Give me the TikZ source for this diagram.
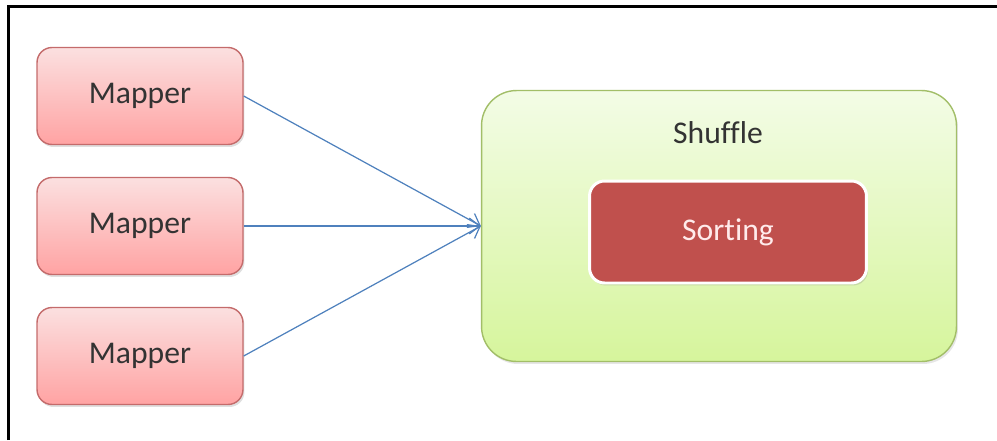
\documentclass[tikz,border=0pt]{standalone}
\usepackage{fontspec}
\setmainfont{Carlito}[Ligatures=CommonOff]
\usetikzlibrary{calc}
\usetikzlibrary{positioning}
\usetikzlibrary{shadows}
\usetikzlibrary{arrows.meta}

\definecolor{mapedge}{HTML}{C46B6B}
\definecolor{maptop}{HTML}{FBE0E0}
\definecolor{mapbottom}{HTML}{FFA3A3}
\definecolor{shufedge}{HTML}{A2BE68}
\definecolor{shuftop}{HTML}{F3FCE6}
\definecolor{shufbottom}{HTML}{D6F59C}
\definecolor{sortfill}{HTML}{C0504D}
\definecolor{flowblue}{HTML}{4F81BD}

\begin{document}
\begin{tikzpicture}[x=0.02cm, y=-0.02cm,
    every node/.style={font=\fontsize{18}{21}\selectfont, text=black!80},
    mapper/.style={draw=mapedge, line width=0.8pt, rounded corners=0.3cm,
      top color=maptop, bottom color=mapbottom,
      minimum width=4.12cm, minimum height=1.94cm,
      drop shadow={opacity=0.25, shadow xshift=0.03cm, shadow yshift=-0.05cm}},
    shufflebox/.style={draw=shufedge, line width=0.8pt, rounded corners=0.7cm,
      top color=shuftop, bottom color=shufbottom,
      minimum width=9.5cm, minimum height=5.42cm,
      drop shadow={opacity=0.2, shadow xshift=0.03cm, shadow yshift=-0.05cm}},
    sortbox/.style={draw=white, line width=1.7pt, rounded corners=0.3cm,
      fill=sortfill, text=white!92!red,
      minimum width=5.54cm, minimum height=2.04cm,
      drop shadow={opacity=0.25, shadow xshift=0.03cm, shadow yshift=-0.05cm}},
    flow/.style={draw=flowblue, line width=0.7pt, -{Straight Barb[length=6pt, width=9pt]}}
  ]
  \useasboundingbox (0,0) rectangle (997,440);
  % outer frame
  \draw [line width=1.4pt] (8.5,440) -- (8.5,6.5) -- (997,6.5);

  \foreach \i/\y in {1/96, 2/226, 3/356}{
    \node [mapper] (m\i) at (140,\y) {Mapper};
  }

  \node [shufflebox] (shuffle) at (719,226) {};
  \node (shuffletitle) at (718,133) {Shuffle};
  \node [sortbox] (sorting) at (728,232) {Sorting};

  \foreach \i in {1,2,3}{
    \draw [flow] (m\i.east) -- (shuffle.west);
  }
\end{tikzpicture}
\end{document}
